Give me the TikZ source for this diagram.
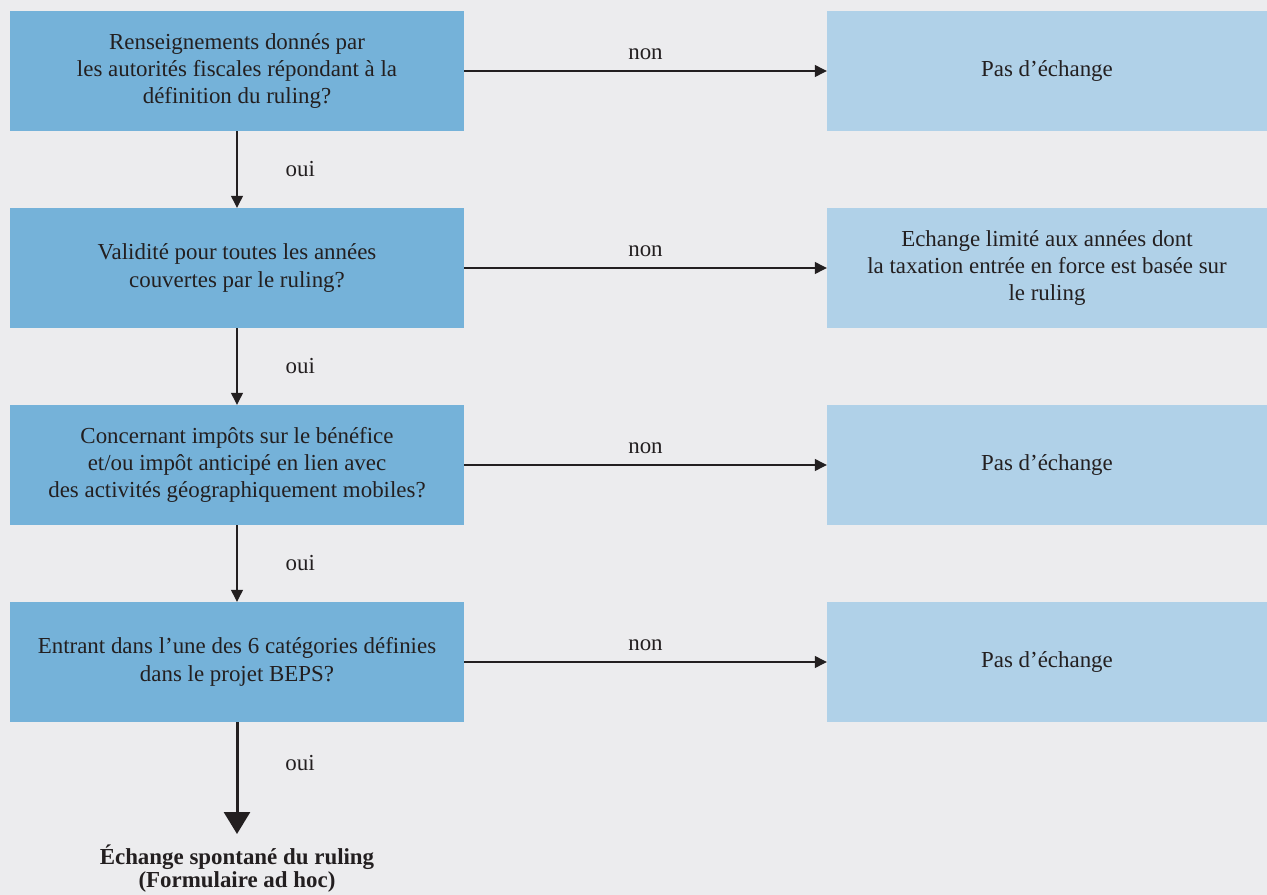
\documentclass[tikz,border=0pt]{standalone}
\usepackage{fontspec}
\setmainfont{Liberation Serif}
\usetikzlibrary{arrows.meta}
\definecolor{bg}{HTML}{ECECEE}
\definecolor{qbox}{HTML}{75B2D9}
\definecolor{abox}{HTML}{B0D1E8}
\definecolor{ink}{HTML}{231F20}
\tikzset{
  qnode/.style={fill=qbox, minimum width=454bp, minimum height=120bp, align=center, inner sep=0pt, text=ink, font=\fontsize{23}{27.5}\selectfont},
  anode/.style={fill=abox, minimum width=440bp, minimum height=120bp, align=center, inner sep=0pt, text=ink, font=\fontsize{23}{27.5}\selectfont},
  lbl/.style={text=ink, font=\fontsize{23}{25}\selectfont, inner sep=0pt},
  conn/.style={draw=ink, line width=1.2bp, -{Triangle[length=12bp,width=12bp]}},
  bigconn/.style={draw=ink, line width=3bp, -{Triangle[length=22bp,width=26bp]}}
}
\begin{document}
\begin{tikzpicture}[x=1bp,y=-1bp]
\fill[bg] (0,0) rectangle (1267,895);
\useasboundingbox (0,0) rectangle (1267,895);
% left question boxes
\node[qnode] (q1) at (237,71) {Renseignements donnés par\\les autorités fiscales répondant à la\\définition du ruling?};
\node[qnode] (q2) at (237,268) {Validité pour toutes les années\\couvertes par le ruling?};
\node[qnode] (q3) at (237,465) {Concernant impôts sur le bénéfice\\et/ou impôt anticipé en lien avec\\des activités géographiquement mobiles?};
\node[qnode] (q4) at (237,662) {Entrant dans l’une des 6 catégories définies\\dans le projet BEPS?};
% right answer boxes
\node[anode] (a1) at (1047,71) {Pas d’échange};
\node[anode] (a2) at (1047,268) {Echange limité aux années dont\\la taxation entrée en force est basée sur\\le ruling};
\node[anode] (a3) at (1047,465) {Pas d’échange};
\node[anode] (a4) at (1047,662) {Pas d’échange};
% final result
\node[text=ink, font=\bfseries\fontsize{23}{23}\selectfont, align=center, inner sep=0pt, anchor=north] (res) at (237,845) {Échange spontané du ruling\\(Formulaire ad hoc)};
\coordinate (end) at (237,834);
% horizontal connectors
\draw[conn] (q1.east) -- node[lbl, above=11bp] {non} (a1.west);
\draw[conn] (q2.east) -- node[lbl, above=11bp] {non} (a2.west);
\draw[conn] (q3.east) -- node[lbl, above=11bp] {non} (a3.west);
\draw[conn] (q4.east) -- node[lbl, above=11bp] {non} (a4.west);
% vertical connectors
\draw[conn] (q1.south) -- node[lbl, right=48bp] {oui} (q2.north);
\draw[conn] (q2.south) -- node[lbl, right=48bp] {oui} (q3.north);
\draw[conn] (q3.south) -- node[lbl, right=48bp] {oui} (q4.north);
\draw[bigconn] (q4.south) -- (end);
\node[lbl] (oui4) at (300,763) {oui};
\end{tikzpicture}
\end{document}
